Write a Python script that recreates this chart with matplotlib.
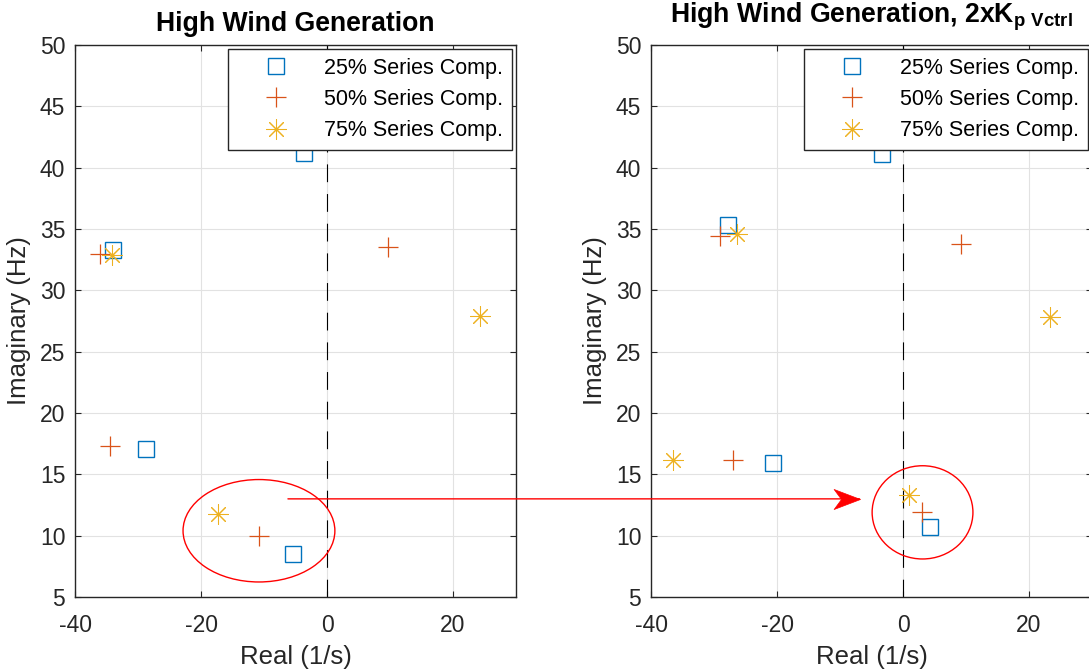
import matplotlib
matplotlib.use("Agg")
import matplotlib.pyplot as plt
from matplotlib.patches import Ellipse, ConnectionPatch
from matplotlib.path import Path

plt.rcParams["font.family"] = ["Liberation Sans", "DejaVu Sans"]
plt.rcParams["mathtext.fontset"] = "custom"
plt.rcParams["mathtext.rm"] = "Liberation Sans"
plt.rcParams["mathtext.bf"] = "Liberation Sans:bold"
plt.rcParams["axes.unicode_minus"] = False

LABELS = ["25% Series Comp.", "50% Series Comp.", "75% Series Comp."]
COLORS = ["#0072BD", "#D95319", "#EDB120"]

# eigenvalues: real part (1/s), imaginary part (Hz)
base_25_re = [-3.7, -33.9, -28.8, -5.4]
base_25_im = [41.2, 33.3, 17.05, 8.5]
base_50_re = [-36.1, 9.7, -34.5, -10.8]
base_50_im = [33.0, 33.5, 17.27, 10.0]
base_75_re = [-34.1, 24.3, -17.3]
base_75_im = [32.9, 27.9, 11.76]

kp_25_re = [-3.3, -27.8, -20.6, 4.3]
kp_25_im = [41.1, 35.3, 15.9, 10.7]
kp_50_re = [-29.0, 9.25, -27.0, 3.0]
kp_50_im = [34.4, 33.74, 16.13, 11.92]
kp_75_re = [-26.3, 23.3, -36.5, 1.0]
kp_75_im = [34.6, 27.85, 16.18, 13.28]

# highlighted mode (ellipse centre, width, height) and arrow ends
base_ring = (-10.8, 10.4, 24.1, 8.35)
kp_ring = (3.1, 11.9, 16.0, 7.6)
arrow_from = (-6.2, 13.0)
arrow_to = (-6.9, 13.0)

XTICKS = [-40, -20, 0, 20]
YTICKS = [5, 10, 15, 20, 25, 30, 35, 40, 45, 50]

MARKERS = [
    dict(marker="s", ms=11, mfc="none", mew=1.0),
    dict(marker="+", ms=14.5, mew=0.9),
    dict(marker=(8, 2, 0), ms=14.5, mew=0.75),
]

fig = plt.figure(figsize=(10.89, 6.71), dpi=100)
W, H = 1089.0, 671.0
ax1 = fig.add_axes([75 / W, 74 / H, 441 / W, 552 / H])
ax2 = fig.add_axes([651 / W, 74 / H, 441 / W, 552 / H])


def draw(ax, series, title, tpad):
    for (re, im), lab, col, mk in zip(series, LABELS, COLORS, MARKERS):
        ax.plot(re, im, ls="none", color=col, mec=col, label=lab, **mk)
    ax.axvline(0, color="k", lw=0.8, dashes=(16, 10.7), zorder=1.5)
    ax.set_xlim(-40, 30)
    ax.set_ylim(5, 50)
    ax.set_xticks(XTICKS)
    ax.set_yticks(YTICKS)
    ax.grid(True, color="#e2e2e2", lw=0.8)
    ax.set_axisbelow(True)
    ax.tick_params(direction="in", length=4.5, width=0.8, colors="#262626",
                   labelsize=16.5, top=True, right=True, pad=7)
    ax.tick_params(axis="x", pad=12)
    for sp in ax.spines.values():
        sp.set_color("#262626")
        sp.set_linewidth(1.0)
    ax.set_xlabel("Real (1/s)", fontsize=18.5, color="#262626", labelpad=6)
    ax.set_ylabel("Imaginary (Hz)", fontsize=18.5, color="#262626", labelpad=6)
    ax.set_title(title, fontsize=19.2, fontweight="bold", pad=tpad)
    leg = ax.legend(loc="upper right", fontsize=15.5, frameon=True, fancybox=False,
                    borderaxespad=0.2, borderpad=0.4, handlelength=3.65,
                    handletextpad=0.42, labelspacing=0.47)
    leg.get_frame().set_edgecolor("#262626")
    leg.get_frame().set_linewidth(1.0)
    leg.get_frame().set_alpha(1.0)


draw(ax1, [(base_25_re, base_25_im), (base_50_re, base_50_im), (base_75_re, base_75_im)],
     "High Wind Generation", 10)
draw(ax2, [(kp_25_re, kp_25_im), (kp_50_re, kp_50_im), (kp_75_re, kp_75_im)],
     r"High Wind Generation, 2xK$_{\mathbf{p\ Vctrl}}$", 16)

for ax, (cx, cy, w, h) in [(ax1, base_ring), (ax2, kp_ring)]:
    ax.add_patch(Ellipse((cx, cy), w, h, fill=False, ec="#ff0000", lw=1.0, zorder=3))

con = ConnectionPatch(xyA=arrow_from, coordsA=ax1.transData,
                      xyB=arrow_to, coordsB=ax2.transData,
                      color="#ff0000", lw=1.0, zorder=5)
fig.add_artist(con)
# notched arrow head, tip at the marker origin
head = Path([(0, 0), (-1, 0.38), (-0.72, 0), (-1, -0.38), (0, 0)],
            [Path.MOVETO, Path.LINETO, Path.LINETO, Path.LINETO, Path.CLOSEPOLY])
ax2.plot([arrow_to[0]], [arrow_to[1]], marker=head, ms=38, color="#ff0000",
         mec="#ff0000", mew=0.5, ls="none", clip_on=False, zorder=6)

fig.savefig("out.png", dpi=100)
